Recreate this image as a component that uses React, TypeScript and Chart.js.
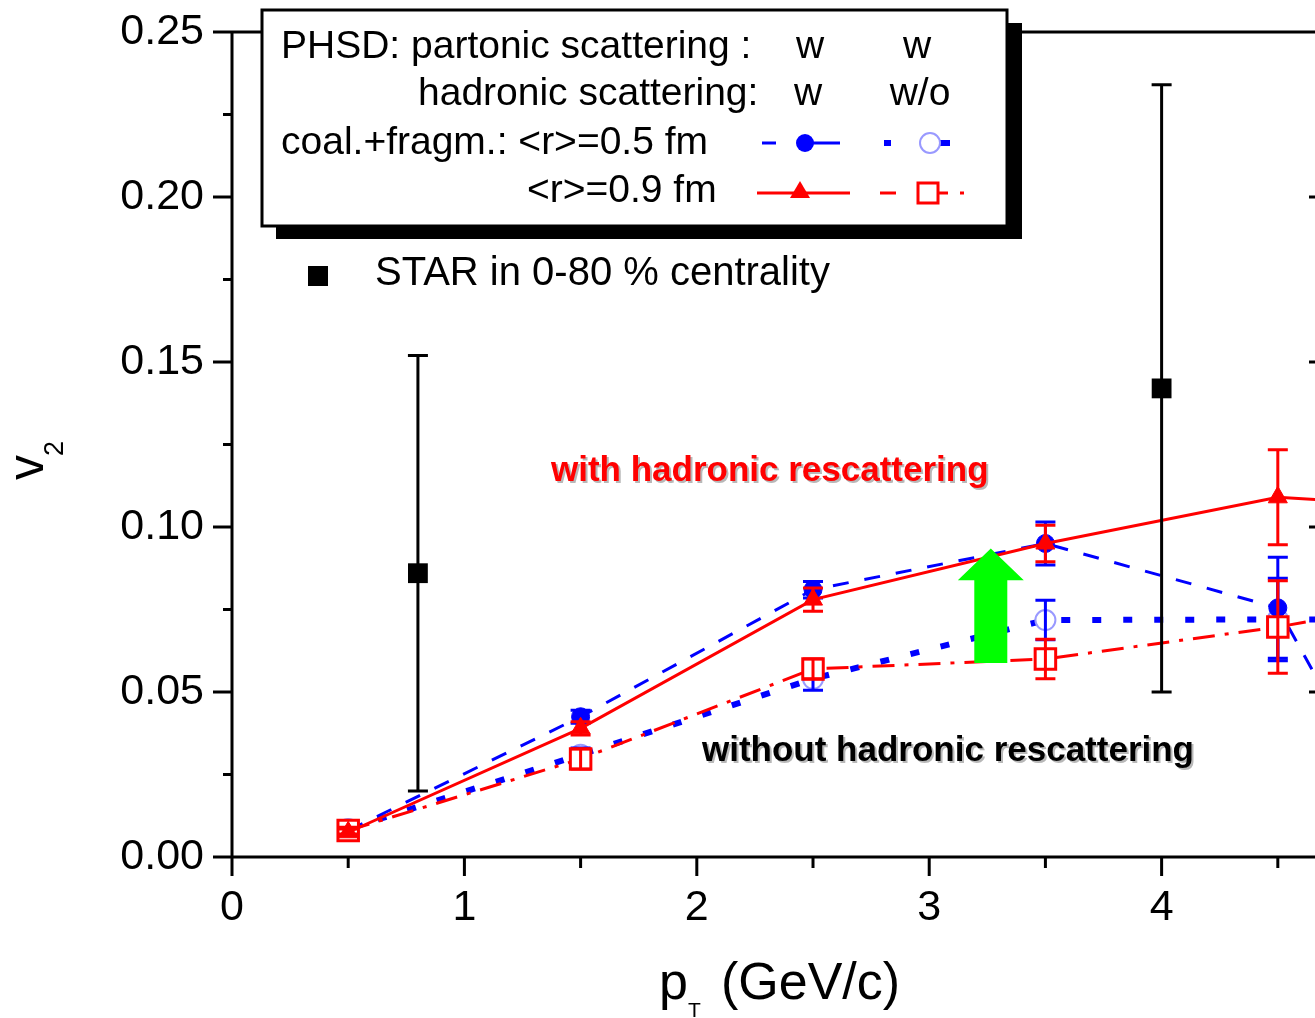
import React, { useEffect, useRef } from 'react';
import { Chart, registerables } from 'chart.js';

Chart.register(...registerables);

// ---- data ----
const ptModel = [0.5, 1.5, 2.5, 3.5, 4.5, 5.0];
// PHSD, partonic w / hadronic w, <r>=0.5 fm
const v2WW05 = [0.008, 0.0425, 0.081, 0.095, 0.0755, 0.012];
const errWW05 = [0.0015, 0.002, 0.0025, 0.0065, 0.0153, 0];
// PHSD, partonic w / hadronic w/o, <r>=0.5 fm
const v2WWo05 = [0.0085, 0.031, 0.054, 0.0718, 0.072, 0.072];
const errWWo05 = [0.0015, 0.002, 0.0035, 0.006, 0.0125, 0];
// PHSD, partonic w / hadronic w, <r>=0.9 fm
const v2WW09 = [0.0075, 0.039, 0.078, 0.095, 0.109, 0.107];
const errWW09 = [0.001, 0.002, 0.0035, 0.0055, 0.0144, 0];
// PHSD, partonic w / hadronic w/o, <r>=0.9 fm
const v2WWo09 = [0.008, 0.0297, 0.057, 0.06, 0.0697, 0.076];
const errWWo09 = [0.001, 0.003, 0.003, 0.006, 0.014, 0];
// STAR 0-80 %
const ptStar = [0.8, 4.0];
const v2Star = [0.086, 0.142];
const errStar = [0.066, 0.092];

const xMajorTicks = [0, 1, 2, 3, 4];
const yMajorTicks = [0, 0.05, 0.1, 0.15, 0.2, 0.25];
// arrow annotation (data coords): x, bottom, head base, tip
const arrowX = 3.265;
const arrowY = [0.0588, 0.0839, 0.0935];

const FONT = "'Liberation Sans', Arial, Helvetica, sans-serif";

const pts = (xs: number[], ys: number[]) => xs.map((x, i) => ({ x, y: ys[i] }));

const errorBarPlugin = {
  id: 'errorBars',
  afterDatasetDraw(chart: any, args: any) {
    const ds = chart.data.datasets[args.index];
    if (!ds.errors) return;
    const xs = chart.scales.x;
    const ys = chart.scales.y;
    const ctx = chart.ctx;
    const a = chart.chartArea;
    ctx.save();
    ctx.beginPath();
    ctx.rect(a.left, a.top - 2, a.right - a.left, a.bottom - a.top + 4);
    ctx.clip();
    ctx.strokeStyle = ds.errorColor;
    ctx.lineWidth = 3;
    ctx.setLineDash([]);
    ds.data.forEach((p: any, i: number) => {
      const e = ds.errors[i];
      if (!e) return;
      const px = xs.getPixelForValue(p.x);
      const t = ys.getPixelForValue(p.y + e);
      const b = ys.getPixelForValue(p.y - e);
      ctx.beginPath();
      ctx.moveTo(px, t);
      ctx.lineTo(px, b);
      ctx.moveTo(px - 10, t);
      ctx.lineTo(px + 10, t);
      ctx.moveTo(px - 10, b);
      ctx.lineTo(px + 10, b);
      ctx.stroke();
    });
    ctx.restore();
  },
};

function marker(ctx: CanvasRenderingContext2D, kind: string, x: number, y: number) {
  ctx.save();
  ctx.setLineDash([]);
  if (kind === 'blueFilled') {
    ctx.fillStyle = '#0000ff';
    ctx.beginPath();
    ctx.arc(x, y, 9, 0, Math.PI * 2);
    ctx.fill();
  } else if (kind === 'blueOpen') {
    ctx.fillStyle = '#fff';
    ctx.strokeStyle = '#9999ff';
    ctx.lineWidth = 2;
    ctx.beginPath();
    ctx.arc(x, y, 10, 0, Math.PI * 2);
    ctx.fill();
    ctx.stroke();
  } else if (kind === 'redTri') {
    ctx.fillStyle = '#ff0000';
    ctx.beginPath();
    ctx.moveTo(x, y - 11);
    ctx.lineTo(x + 10, y + 6);
    ctx.lineTo(x - 10, y + 6);
    ctx.closePath();
    ctx.fill();
  } else if (kind === 'redSq') {
    ctx.fillStyle = '#fff';
    ctx.strokeStyle = '#ff0000';
    ctx.lineWidth = 3;
    ctx.fillRect(x - 10, y - 10, 20, 20);
    ctx.strokeRect(x - 10, y - 10, 20, 20);
  }
  ctx.restore();
}

const overlayPlugin = {
  id: 'overlay',
  afterDraw(chart: any) {
    const ctx: CanvasRenderingContext2D = chart.ctx;
    const a = chart.chartArea;
    const xs = chart.scales.x;
    const ys = chart.scales.y;
    const W = chart.width;
    ctx.save();
    ctx.setLineDash([]);
    ctx.strokeStyle = '#000';
    ctx.lineWidth = 3;
    // axes frame
    ctx.beginPath();
    ctx.moveTo(a.left, a.top);
    ctx.lineTo(W, a.top);
    ctx.moveTo(a.left, a.top - 1);
    ctx.lineTo(a.left, a.bottom + 1);
    ctx.moveTo(a.left - 1, a.bottom);
    ctx.lineTo(W, a.bottom);
    ctx.stroke();
    // x tick marks
    for (let v = 0; v <= xs.max + 1e-9; v += 0.5) {
      const px = xs.getPixelForValue(v);
      const major = Math.abs(v - Math.round(v)) < 1e-6;
      ctx.beginPath();
      ctx.moveTo(px, a.bottom);
      ctx.lineTo(px, a.bottom + (major ? 19 : 11));
      ctx.stroke();
    }
    // y tick marks (left, outside)
    for (let k = 0; k <= 10; k++) {
      const v = k * 0.025;
      const py = ys.getPixelForValue(v);
      const major = k % 2 === 0;
      ctx.beginPath();
      ctx.moveTo(a.left, py);
      ctx.lineTo(a.left - (major ? 19 : 9), py);
      ctx.stroke();
    }
    // right axis ticks (visible stubs)
    yMajorTicks.slice(1, 5).forEach((v) => {
      const py = ys.getPixelForValue(v);
      ctx.beginPath();
      ctx.moveTo(W - 6, py);
      ctx.lineTo(W, py);
      ctx.stroke();
    });

    // legend box with shadow
    ctx.fillStyle = '#000';
    ctx.fillRect(276, 23, 746, 216);
    ctx.fillStyle = '#fff';
    ctx.fillRect(262, 10, 745, 216);
    ctx.strokeStyle = '#000';
    ctx.lineWidth = 3;
    ctx.strokeRect(262, 10, 745, 216);

    ctx.fillStyle = '#000';
    ctx.textBaseline = 'middle';
    ctx.font = `39px ${FONT}`;
    ctx.textAlign = 'left';
    ctx.fillText('PHSD: partonic scattering :', 281, 47);
    ctx.fillText('hadronic scattering:', 418, 94);
    ctx.fillText('coal.+fragm.: <r>=0.5 fm', 281, 143);
    ctx.fillText('<r>=0.9 fm', 527, 191);
    ctx.textAlign = 'center';
    ctx.fillText('w', 810, 47);
    ctx.fillText('w', 917, 47);
    ctx.fillText('w', 808, 94);
    ctx.fillText('w/o', 920, 94);

    // legend samples
    const seg = (x1: number, x2: number, y: number, color: string, w: number) => {
      ctx.save();
      ctx.strokeStyle = color;
      ctx.lineWidth = w;
      ctx.beginPath();
      ctx.moveTo(x1, y);
      ctx.lineTo(x2, y);
      ctx.stroke();
      ctx.restore();
    };
    seg(762, 776, 143, '#0000ff', 3);
    seg(805, 840, 143, '#0000ff', 3);
    marker(ctx, 'blueFilled', 805, 143);
    seg(884, 891, 143, '#0000ff', 6);
    seg(940, 950, 143, '#0000ff', 6);
    marker(ctx, 'blueOpen', 930, 143);
    seg(757, 850, 193, '#ff0000', 3);
    marker(ctx, 'redTri', 800, 192);
    seg(880, 896, 193, '#ff0000', 3);
    seg(938, 948, 193, '#ff0000', 3);
    seg(960, 964, 193, '#ff0000', 3);
    marker(ctx, 'redSq', 928, 193);

    // STAR legend
    ctx.fillStyle = '#000';
    ctx.fillRect(308, 266, 20, 20);
    ctx.textAlign = 'left';
    ctx.font = `40px ${FONT}`;
    ctx.fillText('STAR in 0-80 % centrality', 375, 274);

    // annotations
    ctx.font = `bold 35px ${FONT}`;
    ctx.fillStyle = '#b8b8b8';
    ctx.fillText('with hadronic rescattering', 553, 473);
    ctx.fillText('without hadronic rescattering', 704, 753);
    ctx.fillStyle = '#ff0000';
    ctx.fillText('with hadronic rescattering', 551, 471);
    ctx.fillStyle = '#000';
    ctx.fillText('without hadronic rescattering', 702, 751);

    // green arrow
    const ax = xs.getPixelForValue(arrowX);
    const yb = ys.getPixelForValue(arrowY[0]);
    const yh = ys.getPixelForValue(arrowY[1]);
    const yt = ys.getPixelForValue(arrowY[2]);
    ctx.fillStyle = '#00ff00';
    ctx.beginPath();
    ctx.moveTo(ax, yt);
    ctx.lineTo(ax + 33, yh);
    ctx.lineTo(ax + 16.5, yh);
    ctx.lineTo(ax + 16.5, yb);
    ctx.lineTo(ax - 16.5, yb);
    ctx.lineTo(ax - 16.5, yh);
    ctx.lineTo(ax - 33, yh);
    ctx.closePath();
    ctx.fill();

    // axis titles
    ctx.fillStyle = '#000';
    ctx.textBaseline = 'alphabetic';
    ctx.textAlign = 'left';
    ctx.font = `52px ${FONT}`;
    ctx.fillText('p', 659, 999);
    ctx.fillText('(GeV/c)', 721, 999);
    ctx.font = `21px ${FONT}`;
    ctx.fillText('T', 688, 1017);

    ctx.save();
    ctx.translate(43, 480);
    ctx.rotate(-Math.PI / 2);
    ctx.font = `50px ${FONT}`;
    ctx.fillText('v', 0, 0);
    ctx.font = `27px ${FONT}`;
    ctx.fillText('2', 24, 20);
    ctx.restore();

    ctx.restore();
  },
};

export default function App() {
  const ref = useRef<HTMLCanvasElement | null>(null);

  useEffect(() => {
    if (!ref.current) return;
    const chart = new Chart(ref.current, {
      type: 'line',
      data: {
        datasets: [
          {
            label: 'STAR in 0-80 % centrality',
            data: pts(ptStar, v2Star),
            errors: errStar,
            errorColor: '#000',
            showLine: false,
            pointStyle: 'rect',
            pointRadius: 14,
            pointBackgroundColor: '#000',
            pointBorderColor: '#000',
            pointBorderWidth: 0,
            order: -1,
          } as any,
          {
            label: '<r>=0.9 fm, w/w',
            data: pts(ptModel, v2WW09),
            errors: errWW09,
            errorColor: '#ff0000',
            borderColor: '#ff0000',
            borderWidth: 3,
            pointStyle: 'triangle',
            pointRadius: 11,
            pointBackgroundColor: '#ff0000',
            pointBorderColor: '#ff0000',
            pointBorderWidth: 1,
            order: 0,
          } as any,
          {
            label: '<r>=0.9 fm, w/wo',
            data: pts(ptModel, v2WWo09),
            errors: errWWo09,
            errorColor: '#ff0000',
            borderColor: '#ff0000',
            borderWidth: 3,
            borderDash: [22, 10, 4, 10],
            pointStyle: 'rect',
            pointRadius: 14.5,
            pointBackgroundColor: '#ffffff',
            pointBorderColor: '#ff0000',
            pointBorderWidth: 3,
            order: 1,
          } as any,
          {
            label: '<r>=0.5 fm, w/w',
            data: pts(ptModel, v2WW05),
            errors: errWW05,
            errorColor: '#0000ff',
            borderColor: '#0000ff',
            borderWidth: 3,
            borderDash: [16, 16],
            pointStyle: 'circle',
            pointRadius: 9,
            pointBackgroundColor: '#0000ff',
            pointBorderColor: '#0000ff',
            pointBorderWidth: 1,
            order: 2,
          } as any,
          {
            label: '<r>=0.5 fm, w/wo',
            data: pts(ptModel, v2WWo05),
            errors: errWWo05,
            errorColor: '#0000ff',
            borderColor: '#0000ff',
            borderWidth: 6,
            borderDash: [9, 22],
            pointStyle: 'circle',
            pointRadius: 10,
            pointBackgroundColor: '#ffffff',
            pointBorderColor: '#9999ff',
            pointBorderWidth: 2,
            order: 3,
          } as any,
        ],
      },
      options: {
        responsive: false,
        devicePixelRatio: 1,
        animation: false,
        events: [],
        layout: { autoPadding: false, padding: { top: 32, left: 0, right: 0, bottom: 0 } },
        plugins: {
          legend: { display: false },
          tooltip: { enabled: false },
        },
        elements: { line: { tension: 0 } },
        scales: {
          x: {
            type: 'linear',
            min: 0,
            max: 4.66,
            afterFit: (s: any) => {
              s.height = 161;
              s.paddingLeft = 0;
              s.paddingRight = 0;
            },
            grid: { display: false, drawTicks: false },
            border: { display: false },
            ticks: {
              stepSize: 0.5,
              includeBounds: false,
              autoSkip: false,
              maxRotation: 0,
              padding: 25,
              color: '#000',
              font: { family: FONT, size: 43 },
              callback: (v: any) => (Math.abs(v - Math.round(v)) < 1e-6 && xMajorTicks.includes(Math.round(v)) ? String(Math.round(v)) : ''),
            },
          },
          y: {
            type: 'linear',
            min: 0,
            max: 0.25,
            afterFit: (s: any) => {
              s.width = 232;
              s.paddingTop = 0;
              s.paddingBottom = 0;
            },
            grid: { display: false, drawTicks: false },
            border: { display: false },
            ticks: {
              stepSize: 0.025,
              includeBounds: false,
              autoSkip: false,
              padding: 28,
              color: '#000',
              font: { family: FONT, size: 43 },
              callback: (v: any) => {
                const m = yMajorTicks.find((t) => Math.abs(t - v) < 1e-6);
                return m === undefined ? '' : m.toFixed(2);
              },
            },
          },
        },
      },
      plugins: [errorBarPlugin, overlayPlugin],
    } as any);
    return () => chart.destroy();
  }, []);

  return (
    <div style={{ position: 'absolute', left: 0, top: 0, width: 1315, height: 1018, background: '#fff', overflow: 'hidden' }}>
      <canvas ref={ref} width={1315} height={1018} style={{ display: 'block', width: 1315, height: 1018 }} />
    </div>
  );
}
